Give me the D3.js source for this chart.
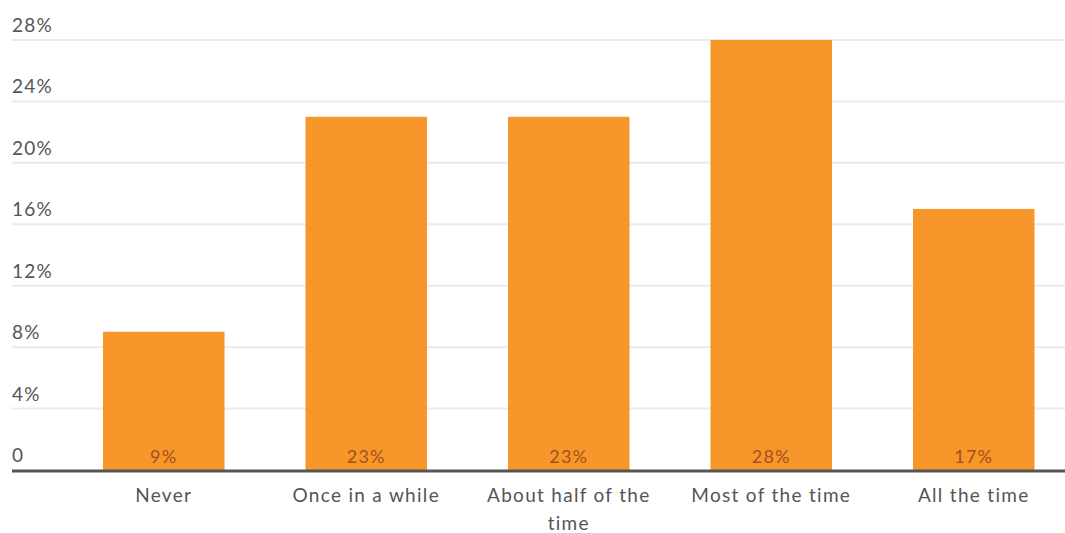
<!DOCTYPE html>
<html><head><meta charset="utf-8">
<script src="https://cdn.jsdelivr.net/npm/d3@7"></script>
<style>body{margin:0;background:#fff}svg{display:block}text{font-family:Lato,"Open Sans",sans-serif}</style>
</head><body><svg id="c" width="1065" height="533"></svg>
<script>
const categories = ["Never","Once in a while","About half of the time","Most of the time","All the time"];
const values = [9,23,23,28,17];
const yTicks = [0,4,8,12,16,20,24,28];

const svg = d3.select("#c");
const y = d3.scaleLinear().domain([0,28]).range([470,40]);
const x = d3.scaleBand().domain(categories).range([62.5,1075]).paddingInner(0.4).paddingOuter(0.2);

// gridlines + tick labels
const g = svg.append("g");
g.selectAll("line.grid").data(yTicks.filter(d=>d>0)).join("line")
  .attr("x1",12).attr("x2",1065).attr("y1",d=>y(d)).attr("y2",d=>y(d))
  .attr("stroke","#ebebeb").attr("stroke-width",2);
g.selectAll("text.tick").data(yTicks).join("text")
  .attr("x",12).attr("y",d=>y(d)-8)
  .attr("font-size",19).attr("letter-spacing",1.2).attr("fill","#555")
  .text(d=>d===0?"0":d+"%");

// bars
svg.selectAll("rect.bar").data(values).join("rect")
  .attr("x",(d,i)=>x(categories[i])).attr("width",x.bandwidth())
  .attr("y",d=>y(d)).attr("height",d=>y(0)-y(d))
  .attr("fill","#f7962b");

// value labels
svg.selectAll("text.val").data(values).join("text")
  .attr("x",(d,i)=>x(categories[i])+x.bandwidth()/2).attr("y",y(0)-7)
  .attr("text-anchor","middle").attr("font-size",18).attr("letter-spacing",1.2).attr("fill","#a0521c")
  .text(d=>d+"%");

// axis line
svg.append("line").attr("x1",12).attr("x2",1065).attr("y1",y(0)+1).attr("y2",y(0)+1)
  .attr("stroke","#555").attr("stroke-width",3);

// category labels with wrapping
const lines = c => c==="About half of the time" ? ["About half of the","time"] : [c];
categories.forEach(c=>{
  const t = svg.append("text").attr("x",x(c)+x.bandwidth()/2).attr("y",502)
    .attr("text-anchor","middle").attr("font-size",19).attr("letter-spacing",1.3).attr("fill","#555");
  lines(c).forEach((l,i)=>t.append("tspan").attr("x",x(c)+x.bandwidth()/2).attr("dy",i?28:0).text(l));
});
</script></body></html>
